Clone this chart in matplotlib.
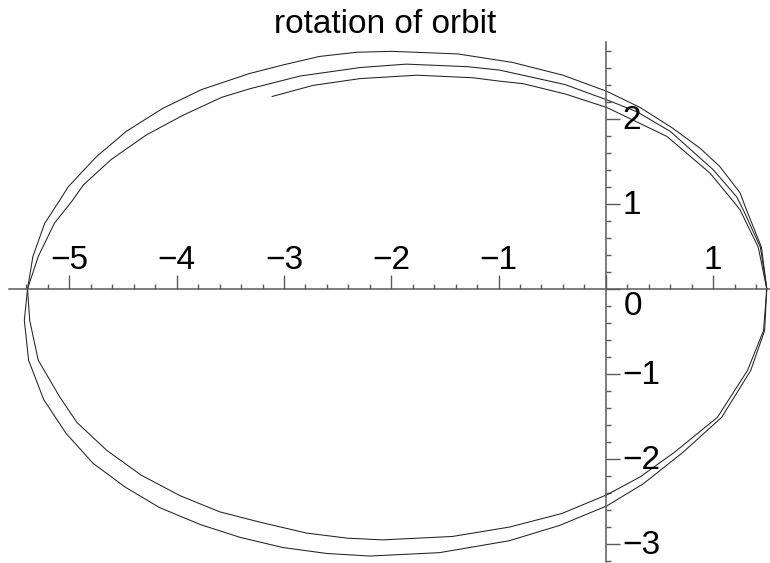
import numpy as np
import matplotlib
matplotlib.use("Agg")
import matplotlib.pyplot as plt
from matplotlib.ticker import MultipleLocator

plt.rcParams['font.family'] = ['Liberation Sans', 'DejaVu Sans']

# orbit points, one list per revolution
loop1 = [(1.50, 0.00), (1.45, 0.49), (1.31, 0.93), (1.25, 1.13), (1.06, 1.44),
         (0.88, 1.65), (0.62, 1.89), (0.32, 2.13), (0.01, 2.32), (-0.40, 2.51),
         (-0.87, 2.66), (-1.38, 2.76), (-1.99, 2.79), (-2.32, 2.78), (-2.67, 2.73),
         (-3.01, 2.63), (-3.32, 2.53), (-3.77, 2.34), (-4.13, 2.12), (-4.47, 1.85),
         (-4.75, 1.55), (-5.01, 1.20), (-5.09, 1.04), (-5.23, 0.77), (-5.34, 0.38),
         (-5.39, 0.00), (-5.37, -0.37), (-5.29, -0.84), (-5.09, -1.27), (-4.93, -1.57),
         (-4.65, -1.90), (-4.33, -2.19), (-3.97, -2.43), (-3.60, -2.62), (-3.23, -2.74),
         (-2.79, -2.87), (-2.41, -2.93), (-2.08, -2.95), (-1.43, -2.91), (-0.90, -2.80),
         (-0.41, -2.64), (0.01, -2.42), (0.32, -2.21), (0.64, -1.92), (1.04, -1.51),
         (1.32, -0.96), (1.47, -0.49), (1.50, 0.00)]

loop2 = [(1.50, 0.00), (1.44, 0.49), (1.28, 0.93), (1.22, 1.08), (1.00, 1.40),
         (0.60, 1.85), (0.29, 2.08), (0.01, 2.22), (-0.38, 2.40), (-0.99, 2.57),
         (-1.29, 2.61), (-1.86, 2.64), (-2.29, 2.60), (-2.85, 2.50), (-3.32, 2.35),
         (-3.58, 2.25), (-3.94, 2.04), (-4.28, 1.81), (-4.61, 1.52), (-4.87, 1.22),
         (-4.97, 1.04), (-5.14, 0.77), (-5.29, 0.38), (-5.39, 0.00), (-5.42, -0.37),
         (-5.38, -0.84), (-5.24, -1.30), (-5.03, -1.70), (-4.78, -2.05), (-4.48, -2.33),
         (-4.16, -2.57), (-3.78, -2.77), (-3.41, -2.92), (-3.01, -3.04), (-2.60, -3.11),
         (-2.20, -3.14), (-1.55, -3.10), (-0.90, -2.96), (-0.43, -2.78), (0.01, -2.55),
         (0.35, -2.29), (0.72, -1.92), (1.08, -1.51), (1.35, -0.96), (1.48, -0.49),
         (1.50, 0.00)]

loop3 = [(1.50, 0.00), (1.42, 0.49), (1.25, 0.93), (1.18, 1.04), (0.97, 1.36),
         (0.57, 1.79), (0.01, 2.13), (-0.38, 2.29), (-0.77, 2.41), (-0.99, 2.44),
         (-1.24, 2.48), (-1.76, 2.51), (-2.29, 2.47), (-2.73, 2.39), (-3.11, 2.26)]

xticks = [-5, -4, -3, -2, -1, 0, 1]
xlabels = ['\u22125', '\u22124', '\u22123', '\u22122', '\u22121', '', '1']
yticks = [-3, -2, -1, 0, 1, 2]
ylabels = ['\u22123', '\u22122', '\u22121', '0', '1', '2']

fig = plt.figure(figsize=(7.7, 5.63), dpi=100)
ax = fig.add_axes([9.3 / 770, 1 / 563, 760.7 / 770, 520 / 563])

for loop in (loop1, loop2, loop3):
    pts = np.array(loop)
    ax.plot(pts[:, 0], pts[:, 1], color='#222222', lw=0.75)

ax.set_xlim(-5.56, 1.53)
ax.set_ylim(-3.21, 2.90)

for s in ('top', 'right'):
    ax.spines[s].set_visible(False)
ax.spines['left'].set_position(('data', 0))
ax.spines['bottom'].set_position(('data', 0))
for s in ('left', 'bottom'):
    ax.spines[s].set_color('#5a5a5a')
    ax.spines[s].set_linewidth(1.1)

ax.set_xticks(xticks)
ax.set_yticks(yticks)
ax.xaxis.set_minor_locator(MultipleLocator(0.2))
ax.yaxis.set_minor_locator(MultipleLocator(0.2))
ax.tick_params(which='both', direction='in', color='#5a5a5a', width=1.0,
               labelbottom=False, labelleft=False)
ax.tick_params(which='major', length=10)
ax.tick_params(which='minor', length=3.6)

for v, lab in zip(xticks, xlabels):
    ax.annotate(lab, xy=(v, 0), xytext=(0, 20), textcoords='offset pixels',
                ha='center', va='baseline', fontsize=24)
for v, lab in zip(yticks, ylabels):
    off = (18, -26) if v == 0 else (17, -10)
    ax.annotate(lab, xy=(0, v), xytext=off, textcoords='offset pixels',
                ha='left', va='baseline', fontsize=24)

fig.text(0.5, 1 - 33 / 563, 'rotation of orbit', ha='center', va='baseline',
         fontsize=24)

fig.savefig('out.png', dpi=100)
